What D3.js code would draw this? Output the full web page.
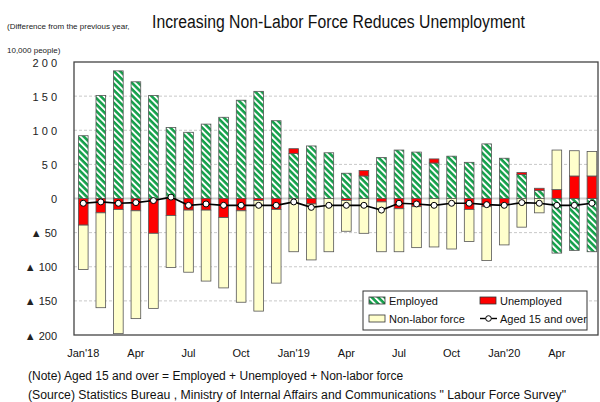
<!DOCTYPE html>
<html>
<head>
<meta charset="utf-8">
<script src="https://cdn.jsdelivr.net/npm/d3@7"></script>
<style>
  html, body { margin: 0; padding: 0; background: #fff; }
  svg { display: block; font-family: "Liberation Sans", Arial, sans-serif; }
</style>
</head>
<body>
<svg id="chart" width="600" height="402"></svg>
<script>
// ---- data (10,000 people, change from previous year) ----
const months = ["Jan'18","Feb'18","Mar'18","Apr'18","May'18","Jun'18","Jul'18","Aug'18","Sep'18","Oct'18","Nov'18","Dec'18",
                "Jan'19","Feb'19","Mar'19","Apr'19","May'19","Jun'19","Jul'19","Aug'19","Sep'19","Oct'19","Nov'19","Dec'19",
                "Jan'20","Feb'20","Mar'20","Apr'20","May'20","Jun'20"];
const employed    = [92, 151, 187, 171, 151, 104, 97, 109, 119, 144, 157, 114, 66, 77, 67, 37, 33, 60, 71, 68, 52, 62, 53, 80, 59, 35, 12, -80, -76, -78];
const unemployed  = [-39, -21, -16, -18, -51, -25, -17, -17, -28, -18, -3, -16, 7, -8, 0, -3, 8, -5, -15, -12, 6, 0, -16, -12, -8, 3, 3, 13, 33, 33];
const nonLabor    = [-65, -139, -182, -158, -110, -76, -91, -104, -103, -134, -162, -108, -78, -82, -78, -45, -51, -73, -63, -60, -71, -74, -47, -79, -60, -42, -21, 58, 37, 36];
const aged15      = [-7, -5, -7, -6, -3, 2, -10, -8, -10, -10, -10, -10, -5, -13, -10, -10, -10, -17, -7, -8, -10, -7, -7, -9, -10, -6, -7, -10, -10, -7];
const xTickMonths = ["Jan'18","Apr'18","Jul'18","Oct'18","Jan'19","Apr'19","Jul'19","Oct'19","Jan'20","Apr'20"];
const xTickLabels = ["Jan'18","Apr","Jul","Oct","Jan'19","Apr","Jul","Oct","Jan'20","Apr"];
const yTicks      = [-200, -150, -100, -50, 0, 50, 100, 150, 200];
const yTickLabels = ["▲ 200","▲ 150","▲ 100","▲ 50","0","5 0","1 0 0","1 5 0","2 0 0"];
const seriesNames = ["Employed","Unemployed","Non-labor force"];

// ---- layout ----
const svg = d3.select("#chart");
const plot = {left: 74, right: 598, top: 62, bottom: 335};

const x = d3.scaleBand().domain(months).range([74.5, 600.7]).paddingInner(0.45).paddingOuter(0.225);
const y = d3.scaleLinear().domain([-200, 200]).range([plot.bottom, plot.top]);

const colors = {"Employed": "url(#hatch)", "Unemployed": "#ff0000", "Non-labor force": "#ffffcc"};

// pattern for employed
const defs = svg.append("defs");
const pat = defs.append("pattern").attr("id", "hatch").attr("patternUnits", "userSpaceOnUse")
  .attr("width", 4.5).attr("height", 4.5).attr("patternTransform", "rotate(-45)");
pat.append("rect").attr("width", 4.5).attr("height", 4.5).attr("fill", "#14a04a");
pat.append("rect").attr("width", 1.9).attr("height", 4.5).attr("fill", "#ffffff");

// gridlines
svg.append("g").selectAll("line").data(yTicks.filter(v => v !== 0 && v !== 200 && v !== -200)).join("line")
  .attr("x1", plot.left).attr("x2", plot.right)
  .attr("y1", d => y(d)).attr("y2", d => y(d))
  .attr("stroke", "#c8c8c8").attr("stroke-width", 1).attr("stroke-dasharray", "3,2");
svg.append("line").attr("x1", plot.left).attr("x2", plot.right).attr("y1", y(0)).attr("y2", y(0))
  .attr("stroke", "#cfcfcf").attr("stroke-width", 2);

// stacked bars
const table = months.map((m, i) => ({month: m, "Employed": employed[i], "Unemployed": unemployed[i], "Non-labor force": nonLabor[i]}));
const stack = d3.stack().keys(seriesNames).offset(d3.stackOffsetDiverging);
const layers = stack(table);
svg.append("g").selectAll("g").data(layers).join("g")
  .attr("fill", d => colors[d.key])
  .selectAll("rect").data(d => d).join("rect")
  .attr("x", d => x(d.data.month))
  .attr("width", x.bandwidth())
  .attr("y", d => y(Math.max(d[0], d[1])))
  .attr("height", d => Math.abs(y(d[0]) - y(d[1])))
  .attr("stroke", "#555").attr("stroke-width", 0.8);

// line
const line = d3.line().x((d, i) => x(months[i]) + x.bandwidth() / 2).y(d => y(d));
svg.append("path").datum(aged15).attr("d", line).attr("fill", "none").attr("stroke", "#000").attr("stroke-width", 1.6);
svg.append("g").selectAll("circle").data(aged15).join("circle")
  .attr("cx", (d, i) => x(months[i]) + x.bandwidth() / 2).attr("cy", d => y(d)).attr("r", 3)
  .attr("fill", "#fff").attr("stroke", "#000").attr("stroke-width", 1);

// frame
svg.append("rect").attr("x", plot.left).attr("y", plot.top).attr("width", plot.right - plot.left).attr("height", plot.bottom - plot.top)
  .attr("fill", "none").attr("stroke", "#444").attr("stroke-width", 1.3);

// y axis labels
svg.append("g").selectAll("text").data(yTicks).join("text")
  .attr("x", 57).attr("y", d => y(d) + 4.5)
  .attr("text-anchor", "end").attr("font-size", 11).attr("fill", "#222")
  .text((d, i) => yTickLabels[i]);

// x axis labels
svg.append("g").selectAll("text").data(xTickMonths).join("text")
  .attr("x", d => x(d) + x.bandwidth() / 2).attr("y", 357)
  .attr("text-anchor", "middle").attr("font-size", 11).attr("fill", "#111")
  .text((d, i) => xTickLabels[i]);

// titles
svg.append("text").attr("x", 152).attr("y", 28).attr("font-size", 18).attr("fill", "#111")
  .attr("textLength", 373).attr("lengthAdjust", "spacingAndGlyphs")
  .text("Increasing Non-Labor Force Reduces Unemployment");
svg.append("text").attr("x", 7).attr("y", 29).attr("font-size", 8).attr("fill", "#222")
  .text("(Difference from the previous year,");
svg.append("text").attr("x", 7).attr("y", 53).attr("font-size", 8).attr("fill", "#222")
  .text("10,000 people)");

// notes
svg.append("text").attr("x", 28).attr("y", 380).attr("font-size", 12).attr("fill", "#111")
  .text("(Note) Aged 15 and over = Employed + Unemployed + Non-labor force");
svg.append("text").attr("x", 28).attr("y", 399).attr("font-size", 12).attr("fill", "#111")
  .attr("textLength", 538).attr("lengthAdjust", "spacingAndGlyphs")
  .text("(Source) Statistics Bureau , Ministry of Internal Affairs and Communications \"  Labour Force Survey\"");

// legend
const lg = svg.append("g");
lg.append("rect").attr("x", 363).attr("y", 291).attr("width", 224).attr("height", 39)
  .attr("fill", "#fff").attr("stroke", "#333").attr("stroke-width", 1);
const legendItems = [
  {name: "Employed", x: 369, y: 297, type: "rect", fill: "url(#hatch)"},
  {name: "Unemployed", x: 480, y: 297, type: "rect", fill: "#ff0000"},
  {name: "Non-labor force", x: 369, y: 315, type: "rect", fill: "#ffffcc"},
  {name: "Aged 15 and over", x: 480, y: 315, type: "line"}
];
legendItems.forEach(it => {
  if (it.type === "rect") {
    lg.append("rect").attr("x", it.x).attr("y", it.y).attr("width", 16).attr("height", 7)
      .attr("fill", it.fill).attr("stroke", "#333").attr("stroke-width", 0.8);
  } else {
    lg.append("line").attr("x1", it.x).attr("x2", it.x + 17).attr("y1", it.y + 3.5).attr("y2", it.y + 3.5)
      .attr("stroke", "#000").attr("stroke-width", 1.4);
    lg.append("circle").attr("cx", it.x + 8.5).attr("cy", it.y + 3.5).attr("r", 2.8)
      .attr("fill", "#fff").attr("stroke", "#000");
  }
  lg.append("text").attr("x", it.x + 20).attr("y", it.y + 8).attr("font-size", 11).attr("fill", "#111").text(it.name);
});
</script>
</body>
</html>
